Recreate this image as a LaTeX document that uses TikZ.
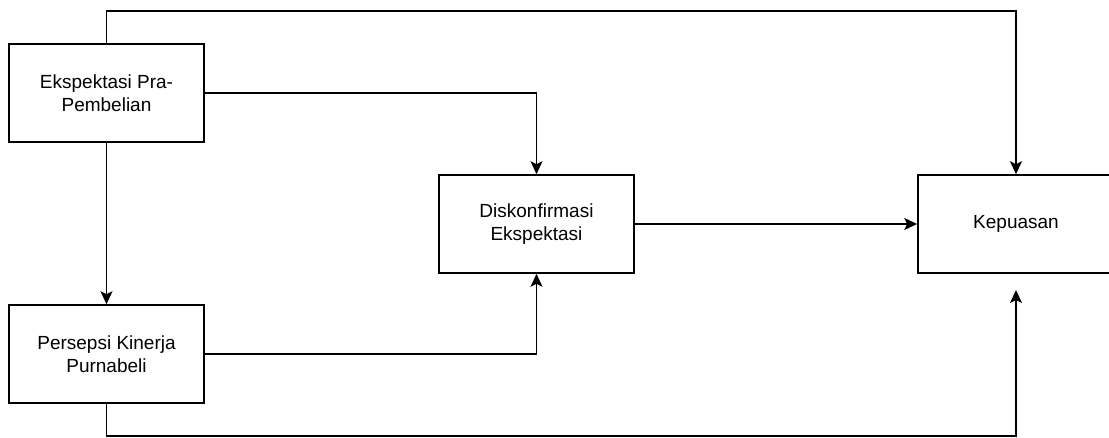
\documentclass[tikz,border=0pt]{standalone}
\usepackage{fontspec}
\setmainfont{Liberation Sans}
\usetikzlibrary{arrows.meta}
\begin{document}
\begin{tikzpicture}[x=1pt,y=-1pt,
  box/.style={draw, line width=1.6pt, minimum width=195pt, minimum height=98pt,
    align=center, font=\fontsize{19}{22.5}\selectfont, inner sep=0pt},
  conn/.style={line width=1.6pt, -{Stealth[length=13pt,width=12pt,inset=3pt]}}]
\useasboundingbox (0,0) rectangle (1109,437);
\clip (0,0) rectangle (1109,437);
\fill[white] (0,0) rectangle (1109,437);
\node[box] (A) at (106.5,93) {Ekspektasi Pra-\\Pembelian};
\node[box] (B) at (106.5,354) {Persepsi Kinerja\\Purnabeli};
\node[box] (C) at (536.5,224) {Diskonfirmasi\\Ekspektasi};
\node[box, minimum width=196pt] (D) at (1016,224) {Kepuasan};
\coordinate (Dend) at (1016,290);
\draw[conn] (A.north) -- ++(0,-32) -| (D.north);
\draw[conn] (A.east) -| (C.north);
\draw[conn] (A.south) -- (B.north);
\draw[conn] (B.east) -| (C.south);
\draw[conn] (C.east) -- (D.west);
\draw[conn] (B.south) -- ++(0,32) -| (Dend);
\end{tikzpicture}
\end{document}
